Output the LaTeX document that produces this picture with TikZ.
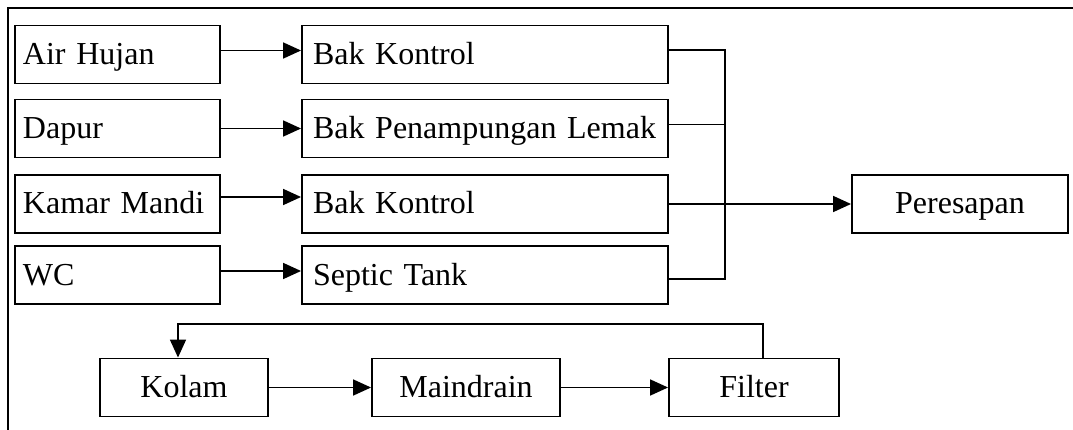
\documentclass[tikz,border=0pt]{standalone}
\usepackage{fontspec}
\setmainfont{Liberation Serif}
\usetikzlibrary{arrows.meta}
\begin{document}
\begin{tikzpicture}[x=1pt,y=-1pt,
  base/.style={draw, line width=1.9pt, inner ysep=0pt, text height=25pt, text depth=5pt,
    font=\fontsize{32}{38}\selectfont},
  lbox/.style={base, minimum height=58pt, inner xsep=8pt, align=left, text width=189pt},
  mbox/.style={base, minimum height=58pt, inner xsep=11pt, align=left, text width=344pt},
  cbox/.style={base, minimum height=58pt, inner xsep=0pt},
  conn/.style={line width=1.7pt},
  arr/.style={conn, -{Triangle[length=18pt,width=16pt]}}]
\useasboundingbox (0,0) rectangle (1073,430);
% outer frame (partly cut off)
\draw[line width=1.7pt] (8,430) -- (8,8) -- (1073,8);
% left column
\node[lbox] (ah) at (117.5,54.5) {\mbox{Air Hujan}};
\node[lbox] (dp) at (117.5,128.5) {\mbox{Dapur}};
\node[lbox] (km) at (117.5,204) {\mbox{Kamar Mandi}};
\node[lbox] (wc) at (117.5,275) {\mbox{WC}};
% middle column
\node[mbox] (bk1) at (485,54.5) {\mbox{Bak Kontrol}};
\node[mbox] (bpl) at (485,128.5) {\mbox{Bak Penampungan Lemak}};
\node[mbox] (bk2) at (485,204) {\mbox{Bak Kontrol}};
\node[mbox] (st) at (485,275) {\mbox{Septic Tank}};
% right
\node[cbox, minimum width=216pt] (ps) at (960,204) {Peresapan};
% bottom row
\node[cbox, minimum width=168pt] (kl) at (184,387.5) {Kolam};
\node[cbox, minimum width=188pt] (md) at (466,387.5) {Maindrain};
\node[cbox, minimum width=170pt] (fl) at (754,387.5) {Filter};
% arrows left to middle
\draw[arr] ([yshift=4pt]ah.east) -- ([yshift=4pt]bk1.west);
\draw[arr] (dp.east) -- (bpl.west);
\draw[arr] ([yshift=7pt]km.east) -- ([yshift=7pt]bk2.west);
\draw[arr] ([yshift=4pt]wc.east) -- ([yshift=4pt]st.west);
% collector
\coordinate (cx) at (725,0);
\draw[conn] ([yshift=4.5pt]bk1.east) -- ([yshift=4.5pt]bk1.east -| cx)
  -- ([yshift=-4pt]st.east -| cx) -- ([yshift=-4pt]st.east);
\draw[conn] ([yshift=4pt]bpl.east) -- ([yshift=4pt]bpl.east -| cx);
\draw[arr] (bk2.east) -- (ps.west);
% bottom chain
\draw[arr] (kl.east) -- (md.west);
\draw[arr] (md.east) -- (fl.west);
\coordinate (f1) at (763,324);
\coordinate (f2) at (178,324);
\draw[arr] (fl.north -| f1) -- (f1) -- (f2) -- (kl.north -| f2);
\end{tikzpicture}
\end{document}
